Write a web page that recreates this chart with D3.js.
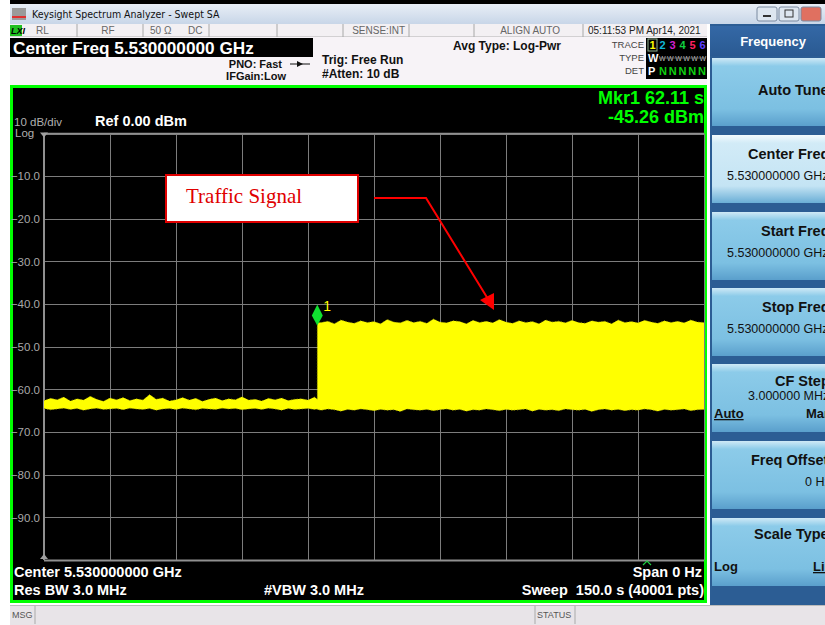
<!DOCTYPE html>
<html><head><meta charset="utf-8">
<script src="https://cdn.jsdelivr.net/npm/d3@7"></script>
<style>
html,body{margin:0;padding:0;background:#fff;}
svg{display:block;font-family:"Liberation Sans",Arial,sans-serif;}
</style></head>
<body><div id="chart"></div>
<script>
// ---------------- data ----------------
const timeTicks = [0,15,30,45,60,75,90,105,120,135,150];
const levelTicks = [0,-10,-20,-30,-40,-50,-60,-70,-80,-90,-100];
const levelLabels = [-10,-20,-30,-40,-50,-60,-70,-80,-90];

const traceTime = [0,1.5,3,4.5,6,7.5,9,10.5,12,13.5,
15,16.5,18,19.5,21,22.5,24,25.5,27,28.5,
30,31.5,33,34.5,36,37.5,39,40.5,42,43.5,
45,46.5,48,49.5,51,52.5,54,55.5,57,58.5,
60,61.5,62.11,
62.11,63,64.5,66,67.5,69,70.5,72,73.5,75,
76.5,78,79.5,81,82.5,84,85.5,87,88.5,90,
91.5,93,94.5,96,97.5,99,100.5,102,103.5,105,
106.5,108,109.5,111,112.5,114,115.5,117,118.5,120,
121.5,123,124.5,126,127.5,129,130.5,132,133.5,135,
136.5,138,139.5,141,142.5,144,145.5,147,148.5,150];

const traceMax = [-62.6,-62.1,-62.4,-61.8,-62.7,-62.2,-62.5,-61.6,-62.3,-62.8,
-62.0,-62.4,-61.9,-62.6,-62.2,-62.5,-61.2,-62.3,-62.0,-62.7,
-62.4,-61.9,-62.5,-62.1,-62.8,-62.3,-62.0,-62.6,-62.2,-62.4,
-61.7,-62.5,-62.3,-62.7,-62.1,-62.4,-62.0,-62.6,-62.3,-62.2,
-62.5,-61.8,-62.3,
-44.3,-44.3,-44.0,-44.6,-43.7,-44.2,-44.5,-43.9,-44.3,-44.1,
-44.6,-43.6,-44.2,-44.4,-43.8,-44.3,-44.0,-44.5,-43.5,-44.2,
-44.4,-43.9,-44.1,-44.6,-43.8,-44.3,-44.0,-44.4,-43.6,-44.2,
-44.5,-43.9,-44.3,-44.1,-44.6,-43.7,-44.2,-44.0,-44.4,-43.8,
-44.3,-44.5,-43.9,-44.2,-44.0,-44.6,-43.7,-44.3,-44.1,-44.4,
-43.8,-44.2,-44.5,-43.9,-44.3,-44.0,-44.4,-43.7,-44.2,-44.3];

const traceMin = [-64.5,-64.8,-64.6,-64.4,-64.7,-64.5,-64.9,-64.6,-64.4,-64.7,
-64.6,-64.5,-64.8,-64.4,-64.6,-64.7,-64.5,-64.9,-64.6,-64.5,
-64.7,-64.4,-64.6,-64.8,-64.5,-64.6,-64.7,-64.4,-64.6,-64.5,
-64.8,-64.6,-64.5,-64.7,-64.4,-64.6,-64.9,-64.5,-64.7,-64.6,
-64.5,-64.7,-64.6,
-64.7,-64.9,-64.6,-64.8,-65.1,-64.7,-64.9,-64.6,-64.8,-65.0,
-64.7,-64.9,-64.8,-65.2,-64.6,-64.8,-64.9,-64.7,-65.0,-64.8,
-64.6,-64.9,-64.7,-65.1,-64.8,-64.9,-64.6,-64.8,-65.0,-64.7,
-64.9,-64.8,-64.6,-65.1,-64.7,-64.9,-64.8,-65.0,-64.6,-64.8,
-64.9,-64.7,-65.2,-64.8,-64.6,-64.9,-64.7,-65.0,-64.8,-64.9,
-64.6,-64.8,-65.1,-64.7,-64.9,-64.8,-64.6,-65.0,-64.8,-64.7];

const markerTime = [62.11];
const markerValue = [-45.26];

const softkeys = ["Auto Tune","Center Freq","Start Freq","Stop Freq","CF Step","Freq Offset","Scale Type"];
const softkeyValues = ["","5.530000000 GHz","5.530000000 GHz","5.530000000 GHz","3.000000 MHz","0 Hz",""];
const traceNums = ["1","2","3","4","5","6"];
const traceColors = ["#ffff00","#10b8d8","#d020d0","#10d040","#ff2060","#6040ff"];

// ---------------- drawing ----------------
const W = 825, H = 625;
const svg = d3.select("#chart").append("svg").attr("width", W).attr("height", H);
const defs = svg.append("defs");

function vgrad(id, stops){
  const g = defs.append("linearGradient").attr("id", id).attr("x1",0).attr("y1",0).attr("x2",0).attr("y2",1);
  stops.forEach(s => g.append("stop").attr("offset", s[0]).attr("stop-color", s[1]));
}
vgrad("titleG", [[0,"#e8eef6"],[1,"#c8d6e8"]]);
vgrad("btnG", [[0,"#cfe9f6"],[0.12,"#8ccbe9"],[0.75,"#7cc0e2"],[1,"#5a9fcc"]]);
vgrad("btnSel", [[0,"#f2fafe"],[0.12,"#d2ebf7"],[0.75,"#c4e4f4"],[1,"#6aaed6"]]);
vgrad("headG", [[0,"#3468a6"],[1,"#2a5a92"]]);
defs.append("clipPath").attr("id","panelClip").append("rect").attr("x",710).attr("y",24).attr("width",115).attr("height",582);

// top black strip + title bar
svg.append("rect").attr("x",10).attr("y",0).attr("width",815).attr("height",4).attr("fill","#000");
svg.append("rect").attr("x",10).attr("y",4).attr("width",815).attr("height",20).attr("fill","url(#titleG)");
svg.append("rect").attr("x",12).attr("y",8).attr("width",14).attr("height",12).attr("fill","#9a9a9a");
svg.append("rect").attr("x",12).attr("y",16).attr("width",14).attr("height",2).attr("fill","#e03030");
svg.append("text").attr("x",32).attr("y",18).attr("fill","#111")
  .attr("font-family","'DejaVu Sans Condensed','DejaVu Sans',sans-serif").attr("font-size",10.5)
  .text("Keysight Spectrum Analyzer - Swept SA");
[[757,"#dde6f0"],[779,"#dde6f0"],[801,"#e07060"]].forEach(b=>{
  svg.append("rect").attr("x",b[0]).attr("y",7).attr("width",20).attr("height",14).attr("rx",2)
    .attr("fill",b[1]).attr("stroke","#7a8aa0");
});
svg.append("rect").attr("x",763).attr("y",15).attr("width",8).attr("height",2).attr("fill","#333");
svg.append("rect").attr("x",785).attr("y",10).attr("width",8).attr("height",7).attr("fill","none").attr("stroke","#333");

// status row
svg.append("rect").attr("x",10).attr("y",24).attr("width",700).attr("height",13).attr("fill","#f3f0f3");
svg.append("line").attr("x1",10).attr("x2",710).attr("y1",37).attr("y2",37).attr("stroke","#b0b0b0");
[77,143,209,277,343,409,474,583].forEach(x=>{
  svg.append("line").attr("x1",x).attr("x2",x).attr("y1",24).attr("y2",37).attr("stroke","#a8a8a8");
});
svg.append("rect").attr("x",10).attr("y",25).attr("width",12).attr("height",11).attr("fill","#20c020");
svg.append("text").attr("x",11).attr("y",34).attr("font-size",9).attr("font-weight","bold").attr("font-style","italic").attr("fill","#000").text("LXI");
const st = [[36,"RL","start"],[108,"RF","middle"],[150,"50 Ω","start"],[188,"DC","start"],[405,"SENSE:INT","end"],[560,"ALIGN AUTO","end"]];
st.forEach(s=>svg.append("text").attr("x",s[0]).attr("y",34).attr("font-size",10).attr("fill","#666").attr("text-anchor",s[2]).text(s[1]));
svg.append("text").attr("x",588).attr("y",34).attr("font-size",10).attr("fill","#222").text("05:11:53 PM Apr14, 2021");

// header info area
svg.append("rect").attr("x",10).attr("y",37).attr("width",700).attr("height",48).attr("fill","#f7f3f7");
svg.append("rect").attr("x",10).attr("y",38).attr("width",303).attr("height",19).attr("fill","#000");
svg.append("text").attr("x",13).attr("y",54).attr("font-size",17.2).attr("font-weight","bold").attr("fill","#fff").text("Center Freq 5.530000000 GHz");
svg.append("text").attr("x",282).attr("y",68).attr("font-size",11).attr("font-weight","bold").attr("text-anchor","end").attr("fill","#111").text("PNO: Fast");
svg.append("text").attr("x",286).attr("y",80).attr("font-size",11).attr("font-weight","bold").attr("text-anchor","end").attr("fill","#111").text("IFGain:Low");
svg.append("line").attr("x1",290).attr("x2",310).attr("y1",64).attr("y2",64).attr("stroke","#111");
svg.append("path").attr("d","M297,61 L303,64 L297,67 Z").attr("fill","#111");
svg.append("text").attr("x",322).attr("y",64).attr("font-size",12).attr("font-weight","bold").attr("fill","#111").text("Trig: Free Run");
svg.append("text").attr("x",322).attr("y",78).attr("font-size",12).attr("font-weight","bold").attr("fill","#111").text("#Atten: 10 dB");
svg.append("text").attr("x",453).attr("y",50).attr("font-size",12).attr("font-weight","bold").attr("fill","#111").text("Avg Type: Log-Pwr");

// trace legend
["TRACE","TYPE","DET"].forEach((t,i)=>svg.append("text").attr("x",644).attr("y",48+i*13).attr("font-size",9.5)
  .attr("text-anchor","end").attr("fill","#444").text(t));
svg.append("rect").attr("x",646).attr("y",38).attr("width",61).attr("height",41).attr("fill","#000");
svg.append("rect").attr("x",648).attr("y",39).attr("width",9).attr("height",12).attr("fill","none").attr("stroke","#90b090");
traceNums.forEach((n,i)=>svg.append("text").attr("x",652.5+i*10).attr("y",49).attr("text-anchor","middle")
  .attr("font-size",11).attr("font-weight","bold").attr("fill",traceColors[i]).text(n));
svg.append("text").attr("x",648).attr("y",62).attr("font-size",11).attr("font-weight","bold").attr("fill","#fff").text("W");
svg.append("text").attr("x",659).attr("y",61).attr("font-size",7).attr("fill","#bbb").attr("textLength",47).text("WWWWWW");
svg.append("line").attr("x1",659).attr("x2",706).attr("y1",58).attr("y2",58).attr("stroke","#999").attr("stroke-width",0.6);
svg.append("text").attr("x",648).attr("y",75).attr("font-size",11).attr("font-weight","bold").attr("fill","#fff").text("P");
svg.append("text").attr("x",659).attr("y",75).attr("font-size",11).attr("font-weight","bold").attr("fill","#10d010")
  .attr("textLength",47).text("NNNNN");

// right softkey panel
svg.append("rect").attr("x",707).attr("y",24).attr("width",3).attr("height",582).attr("fill","#fff");
svg.append("rect").attr("x",710).attr("y",24).attr("width",115).attr("height",582).attr("fill","#2c5d94");
svg.append("rect").attr("x",710).attr("y",26).attr("width",115).attr("height",30).attr("fill","url(#headG)");
svg.append("text").attr("x",773).attr("y",46).attr("text-anchor","middle").attr("font-size",13).attr("font-weight","bold").attr("fill","#fff").text("Frequency");
const panel = svg.append("g").attr("clip-path","url(#panelClip)");
const btnTop = [58,135,212,288,364,441,518];
const btnTextX = [758,748,761,762,775,751,754];
const btnTextY = [37,24,24,24,22,24,21];
const valX = [0,727,727,727,748,805,0];
const valY = [0,45,45,45,36,45,0];
softkeys.forEach((k,i)=>{
  const y0 = btnTop[i];
  panel.append("rect").attr("x",712).attr("y",y0).attr("width",113).attr("height",68)
    .attr("fill", i===1 ? "url(#btnSel)" : "url(#btnG)");
  panel.append("text").attr("x",btnTextX[i]).attr("y",y0+btnTextY[i]).attr("font-size",14.5).attr("font-weight","bold").attr("fill","#111").text(k);
  if (softkeyValues[i]) {
    panel.append("text").attr("x",valX[i]).attr("y",y0+valY[i]).attr("font-size",12.5).attr("fill","#111").text(softkeyValues[i]);
  }
});
function lbl(x,y,t,u){
  panel.append("text").attr("x",x).attr("y",y).attr("font-size",13).attr("fill","#111").attr("font-weight","bold")
    .attr("text-decoration",u?"underline":null).text(t);
}
lbl(714,418,"Auto",true); lbl(806,418,"Man",false);
lbl(714,571,"Log",false); lbl(813,571,"Lin",true);

// bottom message bar
svg.append("rect").attr("x",10).attr("y",605).attr("width",815).attr("height",20).attr("fill","#e8e4e8");
svg.append("line").attr("x1",10).attr("x2",825).attr("y1",605.5).attr("y2",605.5).attr("stroke","#bbb");
[35,535,575].forEach(x=>svg.append("line").attr("x1",x).attr("x2",x).attr("y1",606).attr("y2",624).attr("stroke","#aaa"));
svg.append("text").attr("x",12).attr("y",618).attr("font-size",9).attr("fill","#555").text("MSG");
svg.append("text").attr("x",537).attr("y",618).attr("font-size",9).attr("fill","#555").text("STATUS");

// plot frame
svg.append("rect").attr("x",11.5).attr("y",86.5).attr("width",694).attr("height",515).attr("fill","#000")
  .attr("stroke","#00ff00").attr("stroke-width",3);

const x = d3.scaleLinear().domain([0,150]).range([44,704]);
const y = d3.scaleLinear().domain([-100,0]).range([560,133.5]);

const grid = svg.append("g");
grid.selectAll(".vg").data(timeTicks).join("line")
  .attr("x1",d=>Math.round(x(d))+0.5).attr("x2",d=>Math.round(x(d))+0.5)
  .attr("y1",y(0)).attr("y2",y(-100)).attr("stroke","#7c7c7c").attr("stroke-width",1);
grid.selectAll(".hg").data(levelTicks).join("line")
  .attr("x1",x(0)).attr("x2",x(150))
  .attr("y1",d=>Math.round(y(d))+0.5).attr("y2",d=>Math.round(y(d))+0.5).attr("stroke","#7c7c7c").attr("stroke-width",1);

const yAxis = d3.axisLeft(y).tickValues(levelLabels).tickSize(0).tickPadding(0).tickFormat(d3.format(".1f"));
const yg = svg.append("g").attr("transform","translate(40,0)").call(yAxis);
yg.select(".domain").remove();
yg.selectAll("text").attr("fill","#a8a8a8").attr("font-size",11.5).attr("font-family","'Liberation Sans',Arial,sans-serif");

svg.append("line").attr("x1",x(0)).attr("x2",x(0)).attr("y1",y(0)).attr("y2",y(-100)).attr("stroke","#909090").attr("stroke-width",2);
svg.append("line").attr("x1",x(0)).attr("x2",x(150)).attr("y1",y(-100)+0.5).attr("y2",y(-100)+0.5).attr("stroke","#909090").attr("stroke-width",2);
svg.append("line").attr("x1",x(0)).attr("x2",x(150)).attr("y1",y(0)).attr("y2",y(0)).attr("stroke","#909090").attr("stroke-width",1.5);
svg.append("path").attr("d",`M${x(0)-4},${y(0)-1} L${x(0)+4},${y(0)-1} L${x(0)},${y(0)+4} Z`).attr("fill","#a0a0a0");
svg.append("path").attr("d",`M${x(0)-4},${y(-100)-1} L${x(0)+4},${y(-100)-1} L${x(0)},${y(-100)-6} Z`).attr("fill","#a0a0a0");

svg.append("text").attr("x",14).attr("y",126).attr("font-size",11.5).attr("fill","#b0b0b0").text("10 dB/div");
svg.append("text").attr("x",15).attr("y",137).attr("font-size",11.5).attr("fill","#b0b0b0").text("Log");
svg.append("text").attr("x",95).attr("y",126).attr("font-size",14.5).attr("font-weight","bold").attr("fill","#fff").text("Ref 0.00 dBm");

// trace envelope
const pts = traceTime.map((t,i)=>({t, hi:traceMax[i], lo:traceMin[i]}));
const area = d3.area().x(d=>x(d.t)).y0(d=>y(d.lo)).y1(d=>y(d.hi)).curve(d3.curveLinear);
svg.append("path").datum(pts).attr("d",area).attr("fill","#ffff00");
const topLine = d3.line().x(d=>x(d.t)).y(d=>y(d.hi));
svg.append("path").datum(pts).attr("d",topLine).attr("fill","none").attr("stroke","#9a9a00").attr("stroke-width",0.8).attr("stroke-dasharray","1,2");
const botLine = d3.line().x(d=>x(d.t)).y(d=>y(d.lo));
svg.append("path").datum(pts).attr("d",botLine).attr("fill","none").attr("stroke","#9a9a00").attr("stroke-width",0.8).attr("stroke-dasharray","1,2");

// marker
const mx = x(markerTime[0]), my = y(markerValue[0]);
svg.append("path").attr("d",`M${mx},${my-22} L${mx+5.5},${my-11} L${mx},${my-1} L${mx-5.5},${my-11} Z`).attr("fill","#10e030");
svg.append("text").attr("x",mx+6).attr("y",my-16).attr("font-size",14).attr("fill","#ffff00").text("1");
svg.append("text").attr("x",704).attr("y",104).attr("text-anchor","end").attr("font-size",18).attr("font-weight","bold").attr("fill","#00ff00").text("Mkr1 62.11 s");
svg.append("text").attr("x",704).attr("y",123).attr("text-anchor","end").attr("font-size",18).attr("font-weight","bold").attr("fill","#00ff00").text("-45.26 dBm");

svg.append("path").attr("d","M643,565 L647,561 L651,565").attr("fill","none").attr("stroke","#20d040").attr("stroke-width",1.2);

// bottom text
const bt = [[14,577,"Center 5.530000000 GHz","start"],[14,595,"Res BW 3.0 MHz","start"],[264,595,"#VBW 3.0 MHz","start"],
            [702,577,"Span 0 Hz","end"],[704,595,"Sweep  150.0 s (40001 pts)","end"]];
bt.forEach(b=>svg.append("text").attr("x",b[0]).attr("y",b[1]).attr("text-anchor",b[3]).attr("font-size",14.5)
  .attr("font-weight","bold").attr("fill","#fff").style("white-space","pre").text(b[2]));

// annotation
svg.append("rect").attr("x",166).attr("y",175).attr("width",192).attr("height",47).attr("fill","#fff")
  .attr("stroke","#e00000").attr("stroke-width",2);
svg.append("text").attr("x",186).attr("y",203).attr("font-family","'Liberation Serif','Times New Roman',serif")
  .attr("font-size",21).attr("fill","#e00000").text("Traffic Signal");
svg.append("polyline").attr("points","374,198 426,198 488,299").attr("fill","none").attr("stroke","#ff0000").attr("stroke-width",2);
svg.append("path").attr("d","M494,310 L480,300 L494,293 Z").attr("fill","#ff0000");
</script>
</body></html>
